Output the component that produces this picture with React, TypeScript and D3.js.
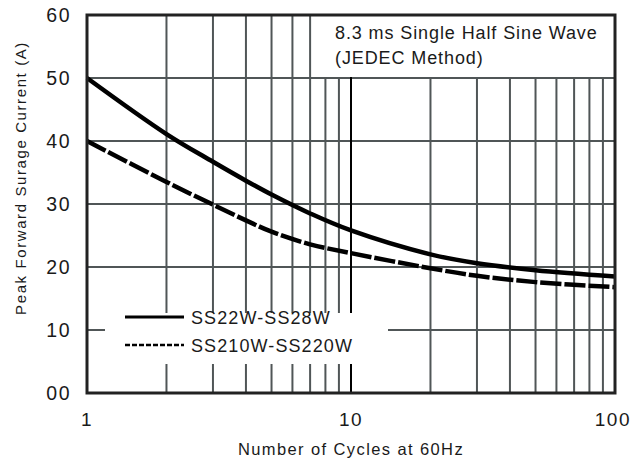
import React from 'react';
import * as d3 from 'd3';

// data
const cycles = [1, 2, 3, 4, 5, 7, 10, 20, 30, 50, 100];
const ss22w = [50, 41.1, 36.7, 33.7, 31.5, 28.5, 25.8, 22.0, 20.6, 19.5, 18.5];
const ss210w = [40, 33.5, 29.9, 27.4, 25.6, 23.6, 22.2, 19.8, 18.6, 17.6, 16.8];

const yTicks = [0, 10, 20, 30, 40, 50, 60];
const yTickLabels = ['00', '10', '20', '30', '40', '50', '60'];
const xTicks = [1, 10, 100];
const xTickLabels = ['1', '10', '100'];
const xMinor = [2, 3, 4, 5, 6, 7, 8, 9, 20, 30, 40, 50, 60, 70, 80, 90];

const legendNames = ['SS22W-SS28W', 'SS210W-SS220W'];
const noteLines = ['8.3 ms Single Half Sine Wave', '(JEDEC Method)'];

const W = 632;
const H = 459;
const margin = { top: 15, right: 17, bottom: 66, left: 87 };
const font = "'Liberation Sans', Arial, Helvetica, sans-serif";
const gridColor = '#505657';
const textColor = '#1a1a1a';

const App: React.FC = () => {
    const x = d3.scaleLog().domain([1, 100]).range([margin.left, W - margin.right]);
    const y = d3.scaleLinear().domain([0, 60]).range([H - margin.bottom, margin.top]);

    const line = d3.line<[number, number]>()
        .x(d => x(d[0]))
        .y(d => y(d[1]))
        .curve(d3.curveCatmullRom.alpha(0.5));

    const solidPath = line(cycles.map((c, i) => [c, ss22w[i]]) as [number, number][]) || '';
    const dashPath = line(cycles.map((c, i) => [c, ss210w[i]]) as [number, number][]) || '';

    // white boxes that cover the grid (note and legend)
    const noteBox = { x0: 316, x1: x(100) - 2, y0: y(60) + 1, y1: y(50) - 1 };
    const legBox = { x0: 105, x1: 388, y0: y(10) - 17, y1: y(10) + 34 };

    return (
        <svg width={W} height={H} style={{ position: 'absolute', left: 0, top: 0, background: '#fff' }}>
            {/* horizontal grid */}
            {yTicks.slice(1, -1).map(t => (
                <line key={'h' + t} x1={x(1)} x2={x(100)} y1={y(t)} y2={y(t)}
                    stroke={gridColor} strokeWidth={2} />
            ))}
            {/* vertical minor grid */}
            {xMinor.map(t => (
                <line key={'v' + t} x1={x(t)} x2={x(t)} y1={y(0)} y2={y(60)}
                    stroke={gridColor} strokeWidth={2} />
            ))}
            <line x1={x(10)} x2={x(10)} y1={y(0)} y2={y(60)} stroke="#000" strokeWidth={2} />

            {/* boxes over the grid */}
            <rect x={noteBox.x0} y={noteBox.y0} width={noteBox.x1 - noteBox.x0} height={noteBox.y1 - noteBox.y0} fill="#fff" />
            <rect x={legBox.x0} y={legBox.y0} width={legBox.x1 - legBox.x0} height={legBox.y1 - legBox.y0} fill="#fff" />

            {/* curves */}
            <path d={solidPath} fill="none" stroke="#000" strokeWidth={4.5} />
            <path d={dashPath} fill="none" stroke="#000" strokeWidth={4.5} strokeDasharray="21 3" />

            {/* frame */}
            <rect x={x(1)} y={y(60)} width={x(100) - x(1)} height={y(0) - y(60)}
                fill="none" stroke="#222" strokeWidth={3} />

            {/* note */}
            {noteLines.map((s, i) => (
                <text key={s} x={335} y={39 + i * 25} fontFamily={font} fontSize={18} letterSpacing={0.9} fill={textColor}>{s}</text>
            ))}

            {/* legend */}
            {legendNames.map((s, i) => (
                <g key={s}>
                    <line x1={125} x2={184} y1={317 + i * 28} y2={317 + i * 28} stroke="#000"
                        strokeWidth={i === 0 ? 3 : 2.5} strokeDasharray={i === 0 ? undefined : '5 2'} />
                    <text x={191} y={323.5 + i * 28} fontFamily={font} fontSize={18} letterSpacing={1.1} fill={textColor}>{s}</text>
                </g>
            ))}

            {/* y tick labels */}
            {yTicks.map((t, i) => (
                <text key={'yl' + t} x={71} y={y(t) + 7} textAnchor="end" fontFamily={font} fontSize={19.5} letterSpacing={1.5} fill={textColor}>
                    {yTickLabels[i]}
                </text>
            ))}
            {/* x tick labels */}
            {xTicks.map((t, i) => (
                <text key={'xl' + t} x={i === 2 ? 631 : x(t)} y={426} textAnchor={i === 2 ? 'end' : 'middle'}
                    fontFamily={font} fontSize={19} letterSpacing={1.5} fill={textColor}>
                    {xTickLabels[i]}
                </text>
            ))}

            {/* axis titles */}
            <text x={351} y={455} textAnchor="middle" fontFamily={font} fontSize={16.5} letterSpacing={1.4} fill={textColor}>
                Number of Cycles at 60Hz
            </text>
            <text transform={`translate(26,178) rotate(-90)`} textAnchor="middle"
                fontFamily={font} fontSize={15} letterSpacing={1.6} fill={textColor}>
                Peak Forward Surage Current (A)
            </text>
        </svg>
    );
};

export default App;
